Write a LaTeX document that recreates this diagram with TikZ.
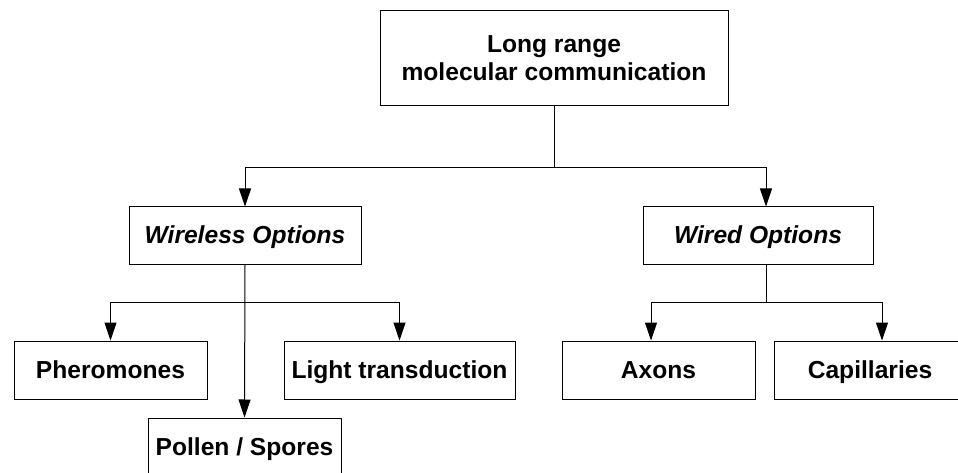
\documentclass[tikz,border=0pt]{standalone}
\usepackage{fontspec}
\setmainfont{Liberation Sans}
\usetikzlibrary{arrows.meta}
\begin{document}
\begin{tikzpicture}[x=1pt,y=-1pt,
  box/.style={draw=black,line width=1pt,fill=white,inner sep=0pt,align=center,
    font=\fontsize{24.6}{28}\selectfont\bfseries},
  one/.style={box,text height=20pt,text depth=4pt},
  arr/.style={draw=black,line width=1pt,-{Triangle[length=18pt,width=12pt]}},
  ln/.style={draw=black,line width=1pt}]
\useasboundingbox (0,0) rectangle (958,473);
\node[box,minimum width=348pt,minimum height=95pt] (top) at (554,58.5) {Long range\\molecular communication};
\node[one,minimum width=232pt,minimum height=57pt,font=\fontsize{24.6}{29}\selectfont\bfseries\itshape] (wl) at (245,235.5) {Wireless Options};
\node[one,minimum width=230pt,minimum height=57pt,font=\fontsize{24.6}{29}\selectfont\bfseries\itshape] (wd) at (758,235.5) {Wired Options};
\node[one,minimum width=193pt,minimum height=58pt] (ph) at (110.5,370) {Pheromones};
\node[one,minimum width=231pt,minimum height=58pt] (lt) at (399.5,370) {Light transduction};
\node[one,minimum width=193pt,minimum height=58pt] (po) at (244.5,447) {Pollen / Spores};
\node[one,minimum width=193pt,minimum height=58pt] (ax) at (658.5,370) {Axons};
\node[one,minimum width=192pt,minimum height=58pt] (ca) at (870,370) {Capillaries};
\coordinate (j1) at (554,168);
\coordinate (j2) at (245,302);
\coordinate (j3) at (766,302);
\draw[ln] (top.south) -- (j1);
\draw[arr] (j1) -| (wl.north);
\draw[arr] (j1) -| ([xshift=8pt]wd.north);
\draw[arr] (wl.south) -- (po.north);
\draw[arr] (j2) -| (ph.north);
\draw[arr] (j2) -| (lt.north);
\draw[ln] ([xshift=8pt]wd.south) -- (j3);
\draw[arr] (j3) -| ([xshift=-7.5pt]ax.north);
\draw[arr] (j3) -| ([xshift=12pt]ca.north);
\end{tikzpicture}
\end{document}
